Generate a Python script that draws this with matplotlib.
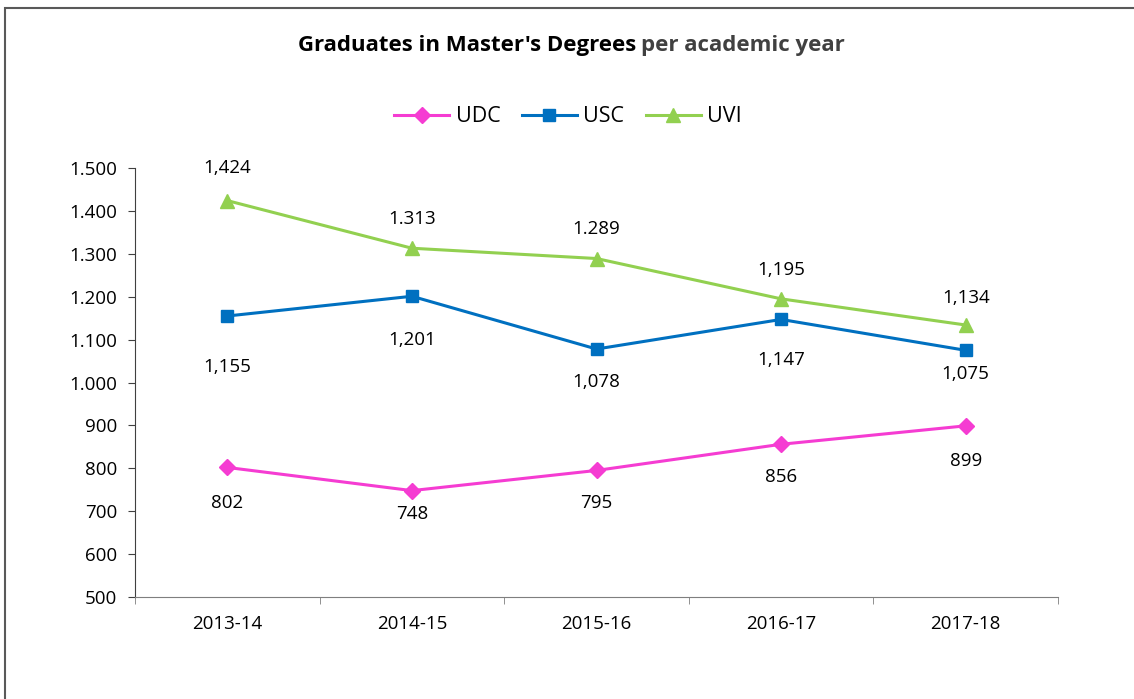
import numpy as np
import matplotlib.pyplot as plt
from matplotlib.patches import Rectangle

plt.rcParams['font.family'] = ['Open Sans', 'DejaVu Sans']

years = ['2013-14', '2014-15', '2015-16', '2016-17', '2017-18']
udc = [802, 748, 795, 856, 899]
usc = [1155, 1201, 1078, 1147, 1075]
uvi = [1424, 1313, 1289, 1195, 1134]

# data labels as they appear in the chart
udc_labels = ['802', '748', '795', '856', '899']
usc_labels = ['1,155', '1,201', '1,078', '1,147', '1,075']
uvi_labels = ['1,424', '1.313', '1.289', '1,195', '1,134']

yticks = [500, 600, 700, 800, 900, 1000, 1100, 1200, 1300, 1400, 1500]

# label offsets in pixels (positive = above)
udc_dy = [-36, -23, -33, -33, -35]
usc_dy = [-51, -44, -33, -41, -24]
uvi_dy = [33, 29, 30, 29, 27]

fig = plt.figure(figsize=(11.34, 6.99), dpi=100)
ax = fig.add_axes([135/1134, 1 - 597/699, (1058 - 135)/1134, (597 - 168)/699])

# outer chart border
fig.patches.append(Rectangle((5/1134, -0.1), 1.2, 1 - 8/699 + 0.1,
                             transform=fig.transFigure, fill=False,
                             edgecolor='#595959', lw=1.5))

x = np.arange(len(years))
series = [
    ('UDC', udc, udc_labels, udc_dy, '#F53CD2', 'D', 8),
    ('USC', usc, usc_labels, usc_dy, '#0070C0', 's', 9),
    ('UVI', uvi, uvi_labels, uvi_dy, '#92D050', '^', 10),
]
for name, vals, labs, dys, col, mk, ms in series:
    ax.plot(x, vals, color=col, lw=2.2, marker=mk, markersize=ms, label=name)
    for xi, v, lab, dy in zip(x, vals, labs, dys):
        ax.annotate(lab, (xi, v), xytext=(0, dy * 0.72), textcoords='offset points',
                    ha='center', va='center', fontsize=13.5)

ax.set_xlim(-0.5, len(years) - 0.5)
ax.set_ylim(500, 1500)
ax.set_yticks(yticks)
ax.set_yticklabels([f'{t:,}'.replace(',', '.') for t in yticks], fontsize=13.5)
ax.set_xticks(x)
ax.set_xticklabels(years, fontsize=13.5)
ax.set_xticks(np.arange(-0.5, len(years)), minor=True)
ax.tick_params(axis='x', which='major', length=0, pad=13)
ax.tick_params(axis='x', which='minor', length=5, color='#7f7f7f', direction='out')
ax.tick_params(axis='y', length=5, color='#404040', pad=8)

for s in ['top', 'right']:
    ax.spines[s].set_visible(False)
ax.spines['left'].set_color('#404040')
ax.spines['bottom'].set_color('#7f7f7f')

fig.text(298/1134, 1 - 46/699, "Graduates in Master's Degrees", fontsize=16,
         fontweight='bold', ha='left', va='center', color='black')
fig.text(641/1134, 1 - 46/699, "per academic year", fontsize=16,
         fontweight='bold', ha='left', va='center', color='#404040')

ax.legend(loc='center', bbox_to_anchor=(568/1134, 1 - 117/699),
          bbox_transform=fig.transFigure, ncol=3, frameon=False, fontsize=15.5,
          handlelength=2.55, columnspacing=1.0, handletextpad=0.3)

fig.savefig('out.png', dpi=100)
